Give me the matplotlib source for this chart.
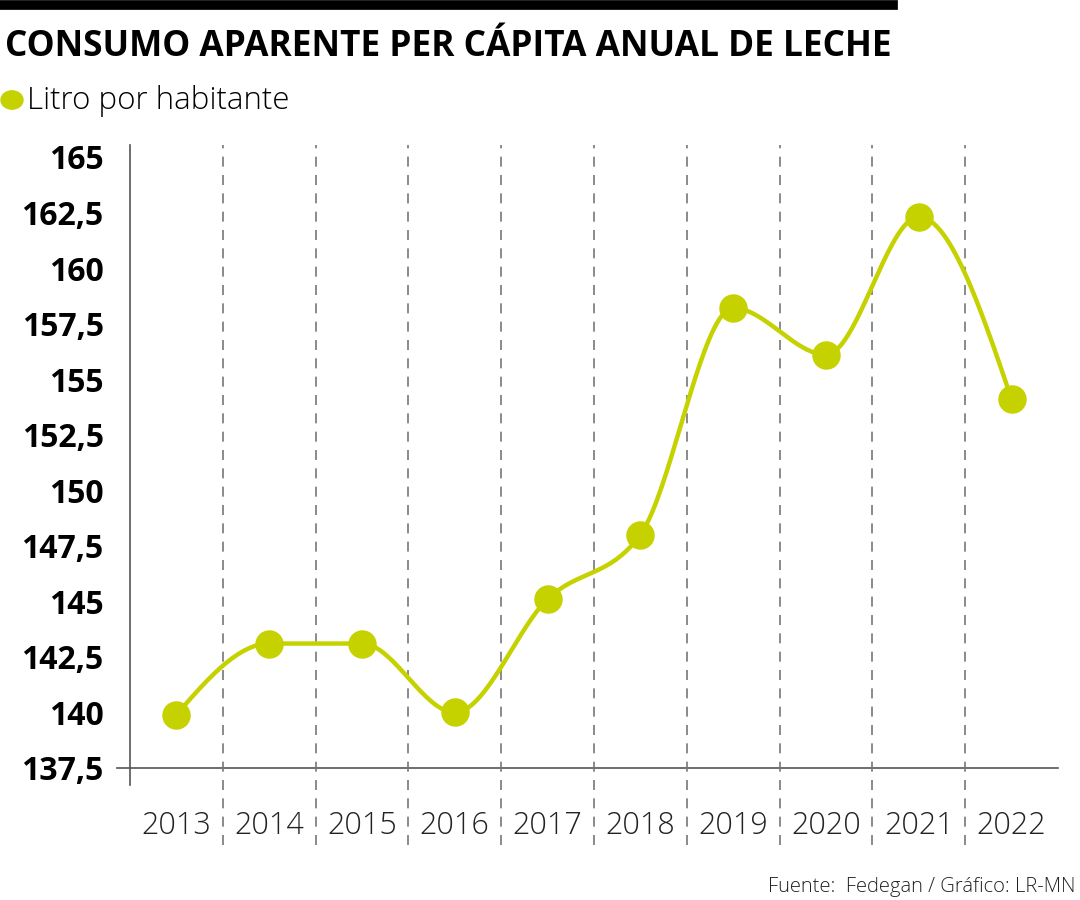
import numpy as np
import matplotlib.pyplot as plt
from matplotlib.lines import Line2D
from matplotlib.patches import Circle

# Datos
years = ["2013", "2014", "2015", "2016", "2017", "2018", "2019", "2020", "2021", "2022"]
litros = [139.9, 143.1, 143.1, 140.0, 145.1, 148.0, 158.2, 156.1, 162.3, 154.1]
yticks = [137.5, 140, 142.5, 145, 147.5, 150, 152.5, 155, 157.5, 160, 162.5, 165]

green = "#c5d200"
grey = "#777777"

plt.rcParams['font.family'] = ['Open Sans', 'DejaVu Sans']


def monotone_curve(x, y, n=40):
    # curva monotona (estilo d3 curveMonotoneX)
    x = np.asarray(x, float)
    y = np.asarray(y, float)
    h = np.diff(x)
    s = np.diff(y) / h
    m = np.zeros(len(x))
    for i in range(1, len(x) - 1):
        p = (s[i - 1] * h[i] + s[i] * h[i - 1]) / (h[i - 1] + h[i])
        m[i] = (np.sign(s[i - 1]) + np.sign(s[i])) * min(abs(s[i - 1]), abs(s[i]), 0.5 * abs(p))
    m[0] = (3 * s[0] - m[1]) / 2
    m[-1] = (3 * s[-1] - m[-2]) / 2
    xs, ys = [], []
    t = np.linspace(0, 1, n)
    for i in range(len(x) - 1):
        h00 = 2 * t ** 3 - 3 * t ** 2 + 1
        h10 = t ** 3 - 2 * t ** 2 + t
        h01 = -2 * t ** 3 + 3 * t ** 2
        h11 = t ** 3 - t ** 2
        xs.append(x[i] + t * h[i])
        ys.append(h00 * y[i] + h10 * h[i] * m[i] + h01 * y[i + 1] + h11 * h[i] * m[i + 1])
    return np.concatenate(xs), np.concatenate(ys)


fig = plt.figure(figsize=(10.8, 9), dpi=100)
ax = fig.add_axes([0.1204, 0.1467, 0.8592, 0.6923])

x = np.arange(len(years))
ax.set_xlim(-0.5, len(years) - 0.5)
ax.set_ylim(137.5, 165.54)

for s in ax.spines.values():
    s.set_visible(False)

# ejes
ax.add_line(Line2D([-0.014, 1.0], [0, 0], transform=ax.transAxes, color="#555555",
                   lw=1.2, clip_on=False))
ax.add_line(Line2D([0, 0], [-0.027, 1.0], transform=ax.transAxes, color="#555555",
                   lw=1.2, clip_on=False))

# separadores de años
for i in range(1, len(years)):
    ax.axvline(i - 0.5, ymin=-0.124, ymax=1.0, color=grey, lw=1.2,
               dashes=(6, 5), clip_on=False)

sx, sy = monotone_curve(x, litros)
ax.plot(sx, sy, color=green, lw=3.2, solid_capstyle="round", zorder=3)
ax.scatter(x, litros, s=420, color=green, zorder=4, linewidths=0)

ax.set_yticks(yticks)
ax.set_yticklabels([f"{v:g}".replace(".", ",") for v in yticks],
                   fontsize=23, fontweight="bold")
ax.tick_params(axis="y", length=0, pad=19)
ax.set_xticks(x)
ax.set_xticklabels(years, fontsize=22, fontweight="light", color="#222222")
ax.tick_params(axis="x", length=0, pad=30)

# cabecera
fig.add_artist(Line2D([0, 893 / 1080], [1 - 5 / 900, 1 - 5 / 900], color="black", lw=7))
fig.text(5 / 1080, 1 - 47 / 900, "CONSUMO APARENTE PER CÁPITA ANUAL DE LECHE",
         fontsize=25.4, fontweight="bold", va="center", ha="left")
fig.add_artist(Circle((12 / 1080, 1 - 100 / 900), 11 / 1080, color=green,
                      transform=fig.transFigure))
fig.text(27 / 1080, 1 - 101 / 900, "Litro por habitante", fontsize=22.5,
         fontweight="light", va="center", ha="left")
fig.text(1075 / 1080, 1 - 887 / 900, "Fuente:  Fedegan / Gráfico: LR-MN",
         fontsize=14.5, fontweight="light", color="#222222", va="center", ha="right")

fig.savefig("out.png", dpi=100)
